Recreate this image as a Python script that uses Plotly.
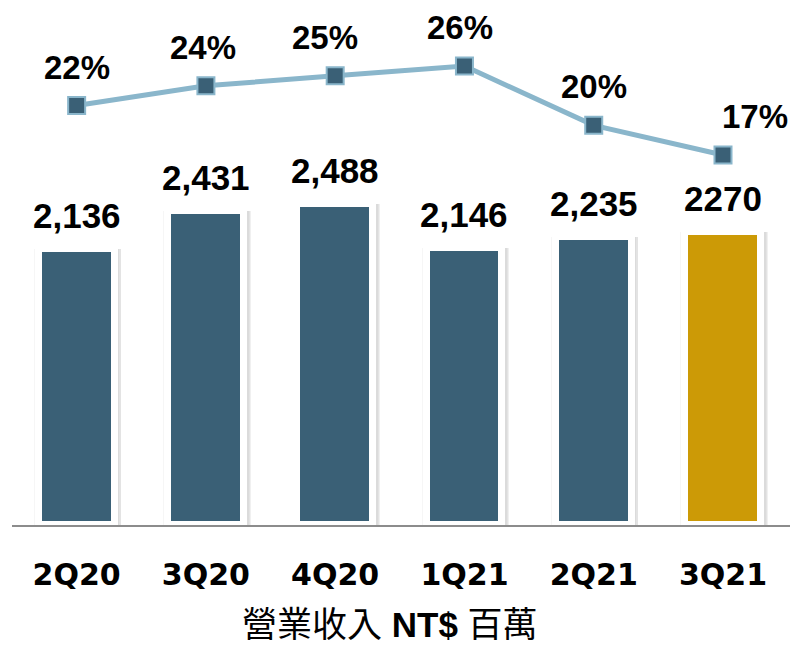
import plotly.graph_objects as go

# Quarterly operating revenue (NT$ million) and margin
quarters = ["2Q20", "3Q20", "4Q20", "1Q21", "2Q21", "3Q21"]
revenue = [2136, 2431, 2488, 2146, 2235, 2270]
revenue_labels = ["2,136", "2,431", "2,488", "2,146", "2,235", "2270"]
margin = [0.22, 0.24, 0.25, 0.26, 0.20, 0.17]

BAR_BLUE = "#3a6076"
BAR_GOLD = "#cc9a06"
LINE_BLUE = "#8ab6cb"
bar_colors = [BAR_BLUE] * 5 + [BAR_GOLD]

LABEL_FONT = "Liberation Sans, Arial, sans-serif"

fig = go.Figure()

# soft glow and drop shadow behind each bar (layered translucent bars)
for width, offset, alpha in [(0.66, -0.33, 0.035),
                             (0.645, -0.305, 0.05),
                             (0.64, -0.295, 0.06)]:
    fig.add_trace(go.Bar(
        x=quarters, y=revenue,
        width=width, offset=offset,
        marker=dict(color=f"rgba(0,0,0,{alpha})", line=dict(width=0)),
        hoverinfo="skip", showlegend=False,
    ))

# revenue bars with a white frame
fig.add_trace(go.Bar(
    x=quarters, y=revenue,
    width=0.586,
    marker=dict(color=bar_colors, line=dict(color="white", width=7)),
    showlegend=False,
))

# margin line on the secondary axis
fig.add_trace(go.Scatter(
    x=quarters, y=margin, yaxis="y2",
    mode="lines+markers",
    line=dict(color=LINE_BLUE, width=5),
    marker=dict(symbol="square", size=17, color=BAR_BLUE,
                line=dict(color=LINE_BLUE, width=2)),
    showlegend=False,
))

annotations = []
for q, v, t in zip(quarters, revenue, revenue_labels):
    annotations.append(dict(
        x=q, y=v, xref="x", yref="y", text=t, showarrow=False,
        yanchor="bottom", yshift=12,
        font=dict(family=LABEL_FONT, size=35, color="black", weight="bold"),
    ))

pct_xshift = [0, -3, -10, -4, 0, 32]
for q, m, dx in zip(quarters, margin, pct_xshift):
    annotations.append(dict(
        x=q, y=m, xref="x", yref="y2", text=f"{round(m * 100)}%",
        showarrow=False, yanchor="bottom", yshift=18, xshift=dx,
        font=dict(family=LABEL_FONT, size=33, color="black", weight="bold"),
    ))

annotations.append(dict(
    x=0.5, y=0, xref="paper", yref="paper", xshift=-11, yshift=-99,
    yanchor="middle", showarrow=False,
    text="營業收入 <b>NT$</b> 百萬",
    font=dict(family="Liberation Sans, Noto Sans CJK TC, sans-serif",
              size=35, color="black"),
))

fig.update_layout(
    width=796, height=649,
    margin=dict(l=12, r=6, t=0, b=124),
    paper_bgcolor="white", plot_bgcolor="white",
    barmode="overlay",
    bargap=0,
    xaxis=dict(
        showline=True, linecolor="#8c8c8c", linewidth=2,
        showgrid=False, ticks="", ticklabelstandoff=22,
        tickfont=dict(family="DejaVu Sans, sans-serif", size=30,
                      color="black", weight="bold"),
    ),
    yaxis=dict(range=[0, 4070], visible=False, showgrid=False),
    yaxis2=dict(range=[-0.2041, 0.3267], overlaying="y", visible=False,
                showgrid=False),
    annotations=annotations,
)

fig.write_html("out.html")
